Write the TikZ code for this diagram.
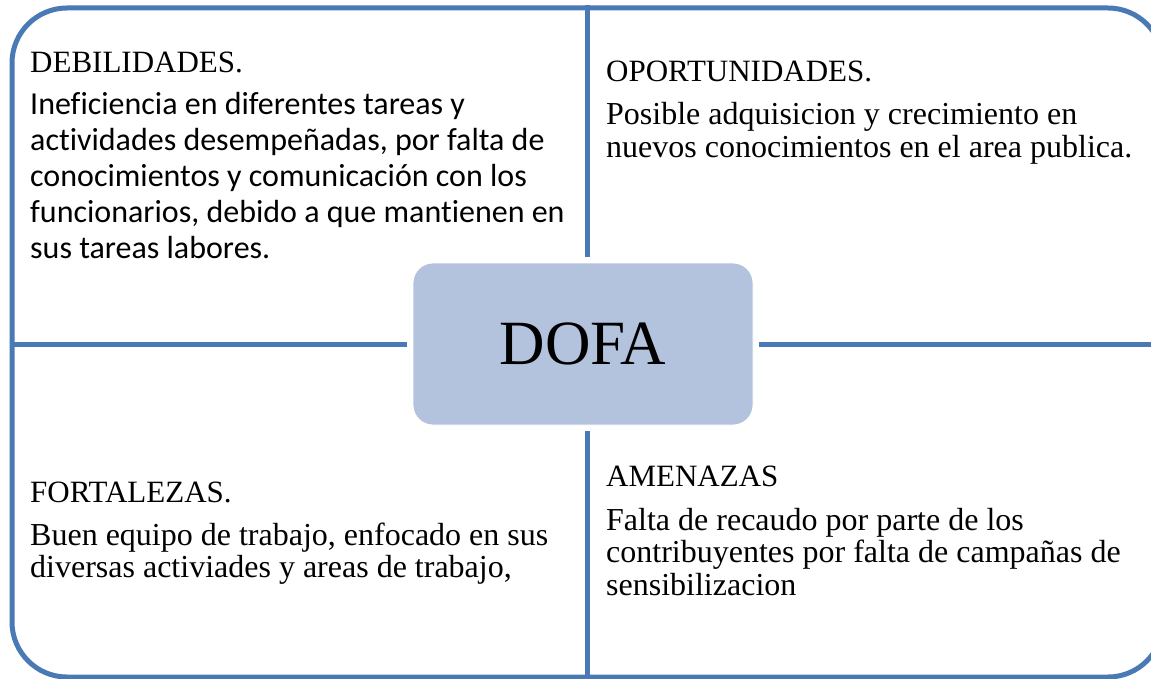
\documentclass[tikz,border=0pt]{standalone}
\usepackage{fontspec}
\setmainfont{Liberation Serif}
\newfontfamily\calibrifont[Ligatures={NoCommon}]{Carlito}
\definecolor{frameblue}{HTML}{4A7AB5}
\definecolor{boxblue}{HTML}{B3C3DE}
\tikzset{
  framebox/.style={draw=frameblue, line width=5pt, rounded corners=55pt, inner sep=0pt},
  dofabox/.style={fill=boxblue, draw=white, line width=0.8pt, rounded corners=20pt, inner sep=0pt,
    minimum width=340pt, minimum height=162pt, font=\fontsize{63}{70}\selectfont},
  divline/.style={draw=frameblue, line width=5pt},
  heading/.style={anchor=base west, inner sep=0pt, font=\fontsize{31}{32}\selectfont},
  tbody/.style={anchor=base west, inner sep=0pt, font=\fontsize{32}{32.5}\selectfont},
  cbody/.style={anchor=base west, inner sep=0pt, font=\calibrifont\fontsize{32}{36}\selectfont}
}
\begin{document}
\begin{tikzpicture}[x=1pt,y=-1pt]
\useasboundingbox (0,0) rectangle (1151,679);
\node[framebox, minimum width=1151pt, minimum height=669pt] (frame) at (587.5,342.5) {};
\node[dofabox] (dofa) at (583,344) {DOFA};
\coordinate (vx) at (587.5,344);
\draw[divline] (frame.north -| vx) -- ([yshift=6pt]dofa.north -| vx);
\draw[divline] ([yshift=-6pt]dofa.south -| vx) -- (frame.south -| vx);
\draw[divline] (frame.west |- vx) -- ([xshift=-6pt]dofa.west |- vx);
\draw[divline] ([xshift=6pt]dofa.east |- vx) -- (frame.east |- vx);
% Debilidades
\node[heading] (deb) at (30,73) {DEBILIDADES.};
\node[cbody] (debtxt) at (30,115) {\vtop{\hbox{Ineficiencia en diferentes tareas y}\hbox{actividades desempeñadas, por falta de}\hbox{conocimientos y comunicación con los}\hbox{funcionarios, debido a que mantienen en}\hbox{sus tareas labores.}}};
% Oportunidades
\node[heading] (opo) at (606,82) {OPORTUNIDADES.};
\node[tbody] (opotxt) at (606,125) {\vtop{\hbox{Posible adquisicion y crecimiento en}\hbox{nuevos conocimientos en el area publica.}}};
% Fortalezas
\node[heading] (fort) at (30,502) {FORTALEZAS.};
\node[tbody] (forttxt) at (30,545) {\vtop{\hbox{Buen equipo de trabajo, enfocado en sus}\hbox{diversas activiades y areas de trabajo,}}};
% Amenazas
\node[heading] (ame) at (606,486) {AMENAZAS};
\node[tbody] (ametxt) at (606,530) {\vtop{\hbox{Falta de recaudo por parte de los}\hbox{contribuyentes por falta de campañas de}\hbox{sensibilizacion}}};
\end{tikzpicture}
\end{document}
